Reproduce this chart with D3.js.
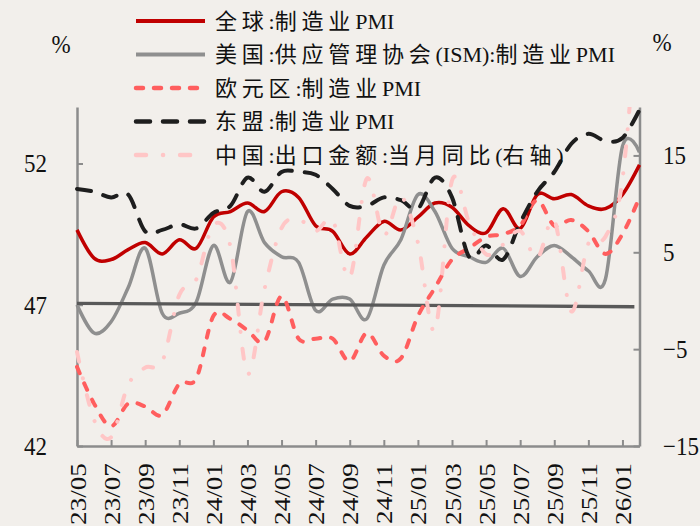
<!DOCTYPE html>
<html>
<head>
<meta charset="utf-8">
<script src="https://cdn.jsdelivr.net/npm/d3@7/dist/d3.min.js"></script>
<style>
  body { margin: 0; background: #f2efeb; }
  svg { display: block; }
</style>
</head>
<body>
<svg id="chart" width="700" height="526"></svg>
<script>
// Monthly categories
const months = ["23/05","23/06","23/07","23/08","23/09","23/10","23/11","23/12",
  "24/01","24/02","24/03","24/04","24/05","24/06","24/07","24/08","24/09","24/10","24/11","24/12",
  "25/01","25/02","25/03","25/04","25/05","25/06","25/07","25/08","25/09","25/10","25/11","25/12",
  "26/01","26/02"];

// Left axis series (PMI)
const globalPMI = [49.65, 48.65, 48.6, 48.95, 49.2, 48.8, 49.3, 49.0,
  50.1, 50.3, 50.6, 50.3, 51.0, 50.8, 49.8, 49.6, 48.8, 49.4, 49.95, 49.65,
  50.1, 50.6, 50.45, 49.8, 49.55, 50.4, 49.7, 50.9, 50.75, 50.9, 50.5, 50.4,
  50.9, 51.95];
const ismPMI = [47.0, 46.0, 46.4, 47.6, 49.0, 46.7, 46.7, 47.1,
  49.1, 47.8, 50.3, 49.2, 48.7, 48.5, 46.8, 47.2, 47.2, 46.5, 48.4, 49.3,
  50.9, 50.3, 49.0, 48.7, 48.5, 49.0, 48.0, 48.7, 49.1, 48.7, 48.2, 47.9,
  52.6, 52.4];
const euroPMI = [44.8, 43.5, 42.7, 43.5, 43.4, 43.1, 44.2, 44.4,
  46.6, 46.5, 46.1, 45.7, 47.3, 45.8, 45.8, 45.8, 45.0, 46.0, 45.2, 45.1,
  46.6, 47.6, 48.6, 49.0, 49.4, 49.5, 49.8, 50.7, 49.8, 50.0, 49.6, 48.8,
  49.5, 50.8];
const aseanPMI = [51.1, 51.0, 50.8, 50.9, 49.6, 49.65, 49.85, 49.7,
  50.25, 50.5, 51.5, 51.0, 51.7, 51.7, 51.6, 51.1, 50.5, 50.5, 50.8, 50.7,
  50.4, 51.5, 50.8, 48.7, 49.1, 48.6, 49.9, 51.0, 51.7, 52.7, 53.05, 52.8,
  52.9, 53.9];

// Right axis series (export growth, %)
const chinaExport = [-5.3, -12.3, -14.1, -8.7, -6.9, -6.3, 0.6, 2.2,
  7.8, 5.6, -7.5, 1.2, 7.5, 8.4, 7.2, 8.3, 2.4, 12.6, 6.8, 10.7,
  6.0, -3.0, 12.4, 8.1, 4.8, 5.8, 7.2, 4.4, 8.3, -1.1, 5.9, 6.6,
  12.5, 33.0];

// Reference line (left axis values at its two ends, month index of its ends)
const refLineValues = [47.05, 46.93];
const refLineIndex = [0, 32.7];

// Tick values
const leftTicks = [42, 47, 52];
const rightTicks = [-15, -5, 5, 15];
const xTickIndex = d3.range(0, months.length - 1, 2);

const W = 700, H = 526;
const plot = { left: 77, right: 639.5, top: 107, bottom: 446 };
const serif = "'Liberation Serif','Tinos','Times New Roman','DejaVu Serif',serif";
const legendFont = "'Liberation Serif','Tinos','Times New Roman','Noto Sans CJK SC',serif";
const axisColor = "#8c8c8c";
const labelStretch = 1.13;

const svg = d3.select("#chart");
svg.append("rect").attr("width", W).attr("height", H).attr("fill", "#f2efeb");

const x = d3.scaleLinear().domain([0, months.length - 1]).range([plot.left, plot.right]);
const yL = d3.scaleLinear().domain([42, 54]).range([plot.bottom, plot.top]);
const yR = d3.scaleLinear().domain([-15, 20]).range([plot.bottom, plot.top]);

svg.append("clipPath").attr("id", "plotClip")
  .append("rect")
  .attr("x", plot.left - 10).attr("y", plot.top)
  .attr("width", plot.right - plot.left + 20).attr("height", plot.bottom - plot.top);

function styleAxis(g) {
  g.attr("font-family", serif).attr("font-size", 23);
  g.select(".domain").attr("stroke", axisColor).attr("stroke-width", 2.5);
  g.selectAll(".tick line").attr("stroke", axisColor).attr("stroke-width", 2);
  g.selectAll(".tick text").attr("fill", "#111")
    .attr("font-family", serif).attr("font-size", 23);
}

// Bottom axis with rotated month labels
const gx = svg.append("g")
  .attr("transform", `translate(0,${plot.bottom})`)
  .call(d3.axisBottom(x).tickValues(xTickIndex).tickFormat(i => months[i])
    .tickSize(-6).tickSizeOuter(0));
styleAxis(gx);
gx.selectAll(".tick text")
  .attr("transform", `rotate(-90) scale(${labelStretch + 0.05},1)`)
  .attr("text-anchor", "end")
  .attr("x", -14.5).attr("y", 0).attr("dy", "0.35em");

// Left axis
const gl = svg.append("g")
  .attr("transform", `translate(${plot.left},0)`)
  .call(d3.axisLeft(yL).tickValues(leftTicks).tickSize(-6).tickSizeOuter(0).tickPadding(30));
styleAxis(gl);
gl.selectAll(".tick text").attr("transform", `scale(1,${labelStretch})`);

// Right axis
const gr = svg.append("g")
  .attr("transform", `translate(${plot.right},0)`)
  .call(d3.axisRight(yR).tickValues(rightTicks).tickSize(-6).tickSizeOuter(0).tickPadding(23.5));
styleAxis(gr);
gr.selectAll(".tick text").attr("transform", `scale(1,${labelStretch})`);

// Unit labels
[[61, 44], [662, 42]].forEach(([ux, uy]) => {
  svg.append("text")
    .attr("transform", `translate(${ux},${uy}) scale(1,${labelStretch})`)
    .attr("dy", "0.35em")
    .attr("text-anchor", "middle").attr("font-family", serif).attr("font-size", 23)
    .attr("fill", "#111").text("%");
});

const series = [
  { name: "全球:制造业PMI", values: globalPMI, y: yL, color: "#c00000", width: 3.5, dash: null },
  { name: "美国:供应管理协会(ISM):制造业PMI", values: ismPMI, y: yL, color: "#8f8f8f", width: 3.5, dash: null },
  { name: "欧元区:制造业PMI", values: euroPMI, y: yL, color: "#ff5e5e", width: 4, dash: "7,11" },
  { name: "东盟:制造业PMI", values: aseanPMI, y: yL, color: "#1e1e1e", width: 4, dash: "14,13" },
  { name: "中国:出口金额:当月同比(右轴)", values: chinaExport, y: yR, color: "#ffc6c6", width: 4, dash: "10,17,0.1,17" }
];

const plotG = svg.append("g").attr("clip-path", "url(#plotClip)");

function drawSeries(s) {
  const gen = d3.line()
    .x((d, i) => x(i))
    .y(d => s.y(d))
    .curve(d3.curveCatmullRom.alpha(0));
  plotG.append("path")
    .datum(s.values)
    .attr("d", gen)
    .attr("fill", "none")
    .attr("stroke", s.color)
    .attr("stroke-width", s.width)
    .attr("stroke-linecap", s.dash ? "round" : "butt")
    .attr("stroke-linejoin", "round")
    .attr("stroke-dasharray", s.dash);
}

drawSeries(series[0]);
drawSeries(series[1]);

// Horizontal reference line
plotG.append("path")
  .datum(refLineValues.map((v, k) => [refLineIndex[k], v]))
  .attr("d", d3.line().x(d => x(d[0])).y(d => yL(d[1])))
  .attr("fill", "none")
  .attr("stroke", "#595959")
  .attr("stroke-width", 3.3);

drawSeries(series[2]);
drawSeries(series[3]);
drawSeries(series[4]);

// Legend: CJK glyphs get extra spacing, Latin runs stay tight
const legend = svg.append("g");
series.forEach((s, i) => {
  const ly = 21 + i * 33.5;
  legend.append("line")
    .attr("x1", 136).attr("x2", 205).attr("y1", ly).attr("y2", ly)
    .attr("stroke", s.color).attr("stroke-width", s.width + 0.5)
    .attr("stroke-linecap", s.dash ? "round" : "butt")
    .attr("stroke-dasharray", s.dash);
  const t = legend.append("text")
    .attr("x", 215).attr("y", ly).attr("dy", "0.36em")
    .attr("font-family", legendFont).attr("font-size", 22)
    .attr("fill", "#111");
  const runs = s.name.match(/[\u3000-\u9fff]+|[^\u3000-\u9fff]+/g);
  runs.forEach(r => {
    const cjk = /[\u3000-\u9fff]/.test(r);
    t.append("tspan").text(r).style("letter-spacing", cjk ? "4.8px" : "0px");
  });
});
</script>
</body>
</html>
